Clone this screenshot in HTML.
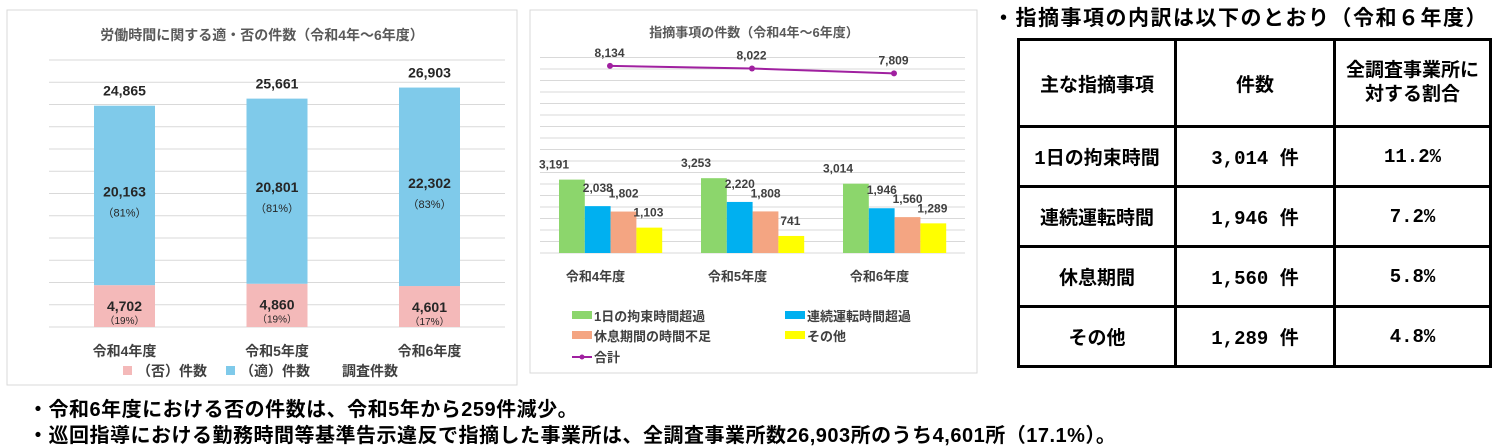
<!DOCTYPE html>
<html><head><meta charset="utf-8">
<style>
body{margin:0;width:1500px;height:445px;background:#fff;overflow:hidden;font-family:"Liberation Sans","Noto Sans CJK JP",sans-serif;}
svg text{font-family:"Liberation Sans","Noto Sans CJK JP",sans-serif;}
.note{position:absolute;left:28px;font-size:20px;font-weight:bold;color:#000;white-space:nowrap;letter-spacing:0.5px}
table{position:absolute;left:1017px;top:38px;border-collapse:collapse;width:475px;}
td{border:3px solid #000;text-align:center;font-weight:bold;font-size:19px;padding:0;font-family:"Liberation Mono","Noto Sans CJK JP",monospace;}
</style></head><body>
<svg width="1500" height="445" style="position:absolute;left:0;top:0">
<rect x="7" y="10" width="510" height="375" fill="#fff" stroke="#d9d9d9"/>
<text x="262" y="40" text-anchor="middle" font-size="14" font-weight="bold" fill="#595959">労働時間に関する適・否の件数（令和4年～6年度）</text>
<g id="lg"></g>
<rect x="530" y="10" width="447" height="363" fill="#fff" stroke="#d9d9d9"/>
<text x="754" y="37" text-anchor="middle" font-size="13" font-weight="bold" fill="#595959">指摘事項の件数（令和4年～6年度）</text>
<g id="mg"></g>
<text x="993" y="25" font-size="21" font-weight="bold" letter-spacing="1.5" fill="#000">・指摘事項の内訳は以下のとおり（令和６年度）</text>
</svg>
<table>
<tr style="height:87px"><td style="width:154px">主な指摘事項</td><td style="width:156px">件数</td><td style="line-height:24px">全調査事業所に<br>対する割合</td></tr>
<tr style="height:60px"><td>1日の拘束時間</td><td>3,014 件</td><td>11.2%</td></tr>
<tr style="height:60px"><td>連続運転時間</td><td>1,946 件</td><td>7.2%</td></tr>
<tr style="height:60px"><td>休息期間</td><td>1,560 件</td><td>5.8%</td></tr>
<tr style="height:60px"><td>その他</td><td>1,289 件</td><td>4.8%</td></tr>
</table>
<div class="note" style="top:393px">・令和6年度における否の件数は、令和5年から259件減少。</div>
<div class="note" style="top:419px">・巡回指導における勤務時間等基準告示違反で指摘した事業所は、全調査事業所数26,903所のうち4,601所（17.1%）。</div>
<script>
const NS="http://www.w3.org/2000/svg";
const leftCats=["令和4年度","令和5年度","令和6年度"];
const ngVals=[4702,4860,4601];
const okVals=[20163,20801,22302];
const totalVals=[24865,25661,26903];
const ngPct=["（19%）","（19%）","（17%）"];
const okPct=["（81%）","（81%）","（83%）"];
const midCats=["令和4年度","令和5年度","令和6年度"];
const s1=[3191,3253,3014];
const s2=[2038,2220,1946];
const s3=[1802,1808,1560];
const s4=[1103,741,1289];
const sumVals=[8134,8022,7809];
function mk(p,tag,a,txt){const e=document.createElementNS(NS,tag);for(const k in a)e.setAttribute(k,a[k]);if(txt!=null)e.textContent=txt;p.appendChild(e);return e;}
const fmt=v=>v.toLocaleString("en-US");
const lg=document.getElementById("lg");
const ly=v=>327-v*(267/30000);
const lx=i=>124.5+i*152.5;
for(let k=0;k<=12;k++){const g=mk(lg,"line",{x1:49,x2:505,y1:ly(k*2500),y2:ly(k*2500),stroke:"#d9d9d9","stroke-width":1});

}
leftCats.forEach((c,i)=>{
 const x=lx(i)-30.5;
 const r1=mk(lg,"rect",{x:x,y:ly(ngVals[i]),width:61,height:327-ly(ngVals[i]),fill:"#f4b9b9"});
 
 
 const r2=mk(lg,"rect",{x:x,y:ly(ngVals[i]+okVals[i]),width:61,height:ly(ngVals[i])-ly(ngVals[i]+okVals[i]),fill:"#7fcaea"});
 
 
 const t1=mk(lg,"text",{x:lx(i),y:ly(totalVals[i])-10,"text-anchor":"middle","font-size":14,"font-weight":"bold",fill:"#262626"},fmt(totalVals[i]));
 
 
 const ym=(ly(ngVals[i])+ly(ngVals[i]+okVals[i]))/2;
 const t2=mk(lg,"text",{x:lx(i),y:ym+1,"text-anchor":"middle","font-size":14,"font-weight":"bold",fill:"#262626"},fmt(okVals[i]));
 
 
 const t3=mk(lg,"text",{x:lx(i),y:ym+21,"text-anchor":"middle","font-size":11,fill:"#262626"},okPct[i]);
 
 
 const t4=mk(lg,"text",{x:lx(i),y:ly(ngVals[i])+26,"text-anchor":"middle","font-size":14,"font-weight":"bold",fill:"#262626"},fmt(ngVals[i]));
 
 
 const t5=mk(lg,"text",{x:lx(i),y:ly(ngVals[i])+39,"text-anchor":"middle","font-size":10,fill:"#262626"},ngPct[i]);
 
 
 const t6=mk(lg,"text",{x:lx(i),y:356,"text-anchor":"middle","font-size":14,"font-weight":"bold",fill:"#404040"},c);
 
 
});
[[123,"#f4b9b9","（否）件数"],[226,"#7fcaea","（適）件数"],[0,null,"調査件数"]].forEach((L,i)=>{
 if(L[1]){const s=mk(lg,"rect",{x:L[0],y:366,width:9,height:9,fill:L[1]});
 
 }
 const t=mk(lg,"text",{x:i==2?342:L[0]+14,y:376,"font-size":14,"font-weight":"bold",fill:"#404040"},L[2]);
 
 
});
const mg=document.getElementById("mg");
const my=v=>253-v*(11.5/500);
const mx=i=>610.5+i*142;
for(let k=0;k<=17;k++){const g=mk(mg,"line",{x1:540,x2:965,y1:my(k*500),y2:my(k*500),stroke:"#d9d9d9","stroke-width":1});

}
const series=[s1,s2,s3,s4];const cols=["#8cd66c","#00b0f0","#f4a582","#ffff00"];
midCats.forEach((c,i)=>{
 series.forEach((s,j)=>{
  const x=mx(i)-51.5+j*25.8;
  const r=mk(mg,"rect",{x:x,y:my(s[i]),width:25.8,height:253-my(s[i]),fill:cols[j]});
  
  
  const t=mk(mg,"text",{x:x+(j==0?-5:j==3?12:13),y:my(s[i])-(j==0?11:j==3?11:14),"text-anchor":"middle","font-size":12,"font-weight":"bold",fill:"#404040"},fmt(s[i]));
  
  
 });
 const t=mk(mg,"text",{x:mx(i)-15,y:281,"text-anchor":"middle","font-size":13,"font-weight":"bold",fill:"#404040"},c);
 
 
});
const pl=mk(mg,"polyline",{points:sumVals.map((v,i)=>(mx(i)-0.5)+","+my(v)).join(" "),fill:"none",stroke:"#a020a0","stroke-width":2});


sumVals.forEach((v,i)=>{
 const c=mk(mg,"circle",{cx:mx(i)-0.5,cy:my(v),r:3,fill:"#a020a0"});
 
 
 const t=mk(mg,"text",{x:mx(i)-1,y:my(v)-9,"text-anchor":"middle","font-size":12,"font-weight":"bold",fill:"#404040"},fmt(v));
 
 
});
[[572,316,"#8cd66c","1日の拘束時間超過"],[785,316,"#00b0f0","連続運転時間超過"],[572,336,"#f4a582","休息期間の時間不足"],[785,336,"#ffff00","その他"]].forEach(L=>{
 const s=mk(mg,"rect",{x:L[0],y:L[1]-5,width:20,height:8,fill:L[2]});
 
 
 const t=mk(mg,"text",{x:L[0]+22,y:L[1]+5,"font-size":13,"font-weight":"bold",fill:"#404040"},L[3]);
 
 
});
const ll=mk(mg,"line",{x1:572,x2:592,y1:357,y2:357,stroke:"#a020a0","stroke-width":2});


const lc=mk(mg,"circle",{cx:582,cy:357,r:2.5,fill:"#a020a0"});


const lt=mk(mg,"text",{x:594,y:362,"font-size":13,"font-weight":"bold",fill:"#404040"},"合計");


</script>
</body></html>
